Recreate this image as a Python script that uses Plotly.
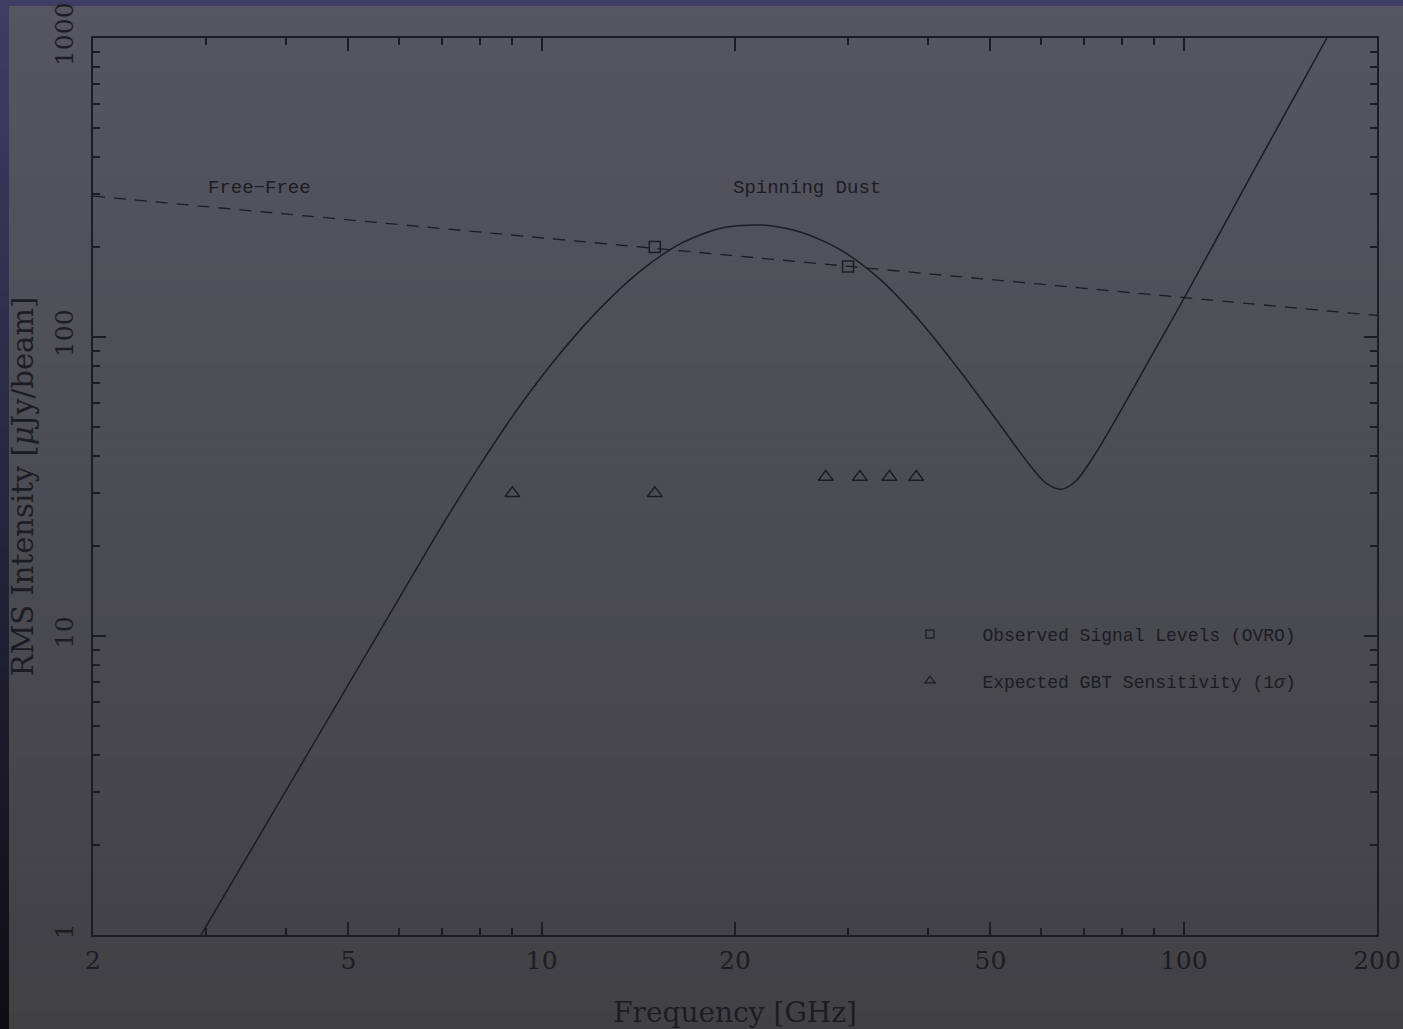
import numpy as np
import plotly.graph_objects as go

# ---- data -------------------------------------------------------------
# Free-free power law (dashed)
freefree_freq = [2.0, 200.0]
freefree_rms = [296.0, 118.0]

# Spinning dust + thermal dust model (solid curve)
dust_freq = [2.946, 4.217, 6.036, 6.968, 8.044, 9.283, 10.72, 12.37, 14.27,
             16.48, 19.02, 21.95, 25.35, 29.25, 33.76, 38.97, 44.98, 51.93,
             57.84, 61.03, 64.40, 67.93, 72.74, 79.57, 88.60, 100.5, 129.6,
             167.1]
dust_rms = [1.0, 3.70, 13.71, 23.08, 37.78, 59.59, 88.96, 125.6, 166.8,
            205.6, 231.2, 236.9, 224.1, 195.2, 154.9, 112.1, 76.23, 50.30,
            36.83, 32.44, 30.97, 32.99, 40.49, 56.13, 84.67, 136.8, 372.0,
            1000.0]

# Observed signal levels (OVRO)
ovro_freq = [15.0, 30.0]
ovro_rms = [200.0, 172.0]

# Expected GBT sensitivity (1 sigma)
gbt_freq = [9.0, 15.0, 27.7, 31.3, 34.8, 38.3]
gbt_rms = [30.0, 30.0, 34.0, 34.0, 34.0, 34.0]

x_major = [2, 5, 10, 20, 50, 100, 200]
x_minor = [3, 4, 6, 7, 8, 9, 30, 40, 60, 70, 80, 90]
y_major = [1, 10, 100, 1000]
y_minor = [m * d for d in (1, 10, 100) for m in range(2, 10)]

# ---- layout geometry (pixels) ----------------------------------------
W, H = 1403, 1029
L, R, T, B = 93, 26, 38, 94
PW, PH = W - L - R, H - T - B


def px_x(px):
    return (px - L) / PW


def px_y(py):
    return (H - B - py) / PH


INK = "rgb(28,28,36)"
SERIF = "DejaVu Serif"
MONO = "Liberation Mono"


def lerp(c0, c1, t):
    return "rgb(%d,%d,%d)" % tuple(round(a + (b - a) * t) for a, b in zip(c0, c1))


shapes = []
# navy backdrop, dark towards the bottom
n = 60
for i in range(n):
    y0, y1 = H * i / n, H * (i + 1) / n + 1
    shapes.append(dict(type="rect", xref="paper", yref="paper", layer="below",
                       x0=px_x(0), x1=px_x(W), y0=px_y(y1), y1=px_y(y0),
                       line=dict(width=0),
                       fillcolor=lerp((62, 62, 102), (13, 13, 21), (i + 0.5) / n)))
# grey slide panel, slightly lighter at the top
top = 6
for i in range(n):
    y0 = top + (H - top) * i / n
    y1 = top + (H - top) * (i + 1) / n + 1
    shapes.append(dict(type="rect", xref="paper", yref="paper", layer="below",
                       x0=px_x(9), x1=px_x(W), y0=px_y(min(y1, H)), y1=px_y(y0),
                       line=dict(width=0),
                       fillcolor=lerp((86, 86, 98), (65, 65, 68), (i + 0.5) / n)))

fig = go.Figure()

fig.add_trace(go.Scatter(
    x=freefree_freq, y=freefree_rms, mode="lines", showlegend=False,
    line=dict(color=INK, width=1.3, dash="12px,9px"), hoverinfo="skip"))

fig.add_trace(go.Scatter(
    x=dust_freq, y=dust_rms, mode="lines", showlegend=False,
    line=dict(color=INK, width=1.5, shape="spline", smoothing=0.8),
    hoverinfo="skip"))

fig.add_trace(go.Scatter(
    x=ovro_freq, y=ovro_rms, mode="markers", showlegend=False,
    marker=dict(symbol="square-open", size=11, color=INK,
                line=dict(width=1.5, color=INK))))

fig.add_trace(go.Scatter(
    x=gbt_freq, y=gbt_rms, mode="markers", showlegend=False,
    marker=dict(symbol="triangle-up-open", size=13, color=INK,
                line=dict(width=1.5, color=INK))))

# legend keys
gap = "\u00a0" * 3
fig.add_trace(go.Scatter(
    x=[None], y=[None], mode="markers", legendgroup="a",
    name=gap + "Observed Signal Levels (OVRO)",
    marker=dict(symbol="square-open", size=8, color=INK,
                line=dict(width=1.2, color=INK))))
fig.add_trace(go.Scatter(
    x=[None], y=[None], mode="markers", legendgroup="b",
    name=gap + "Expected GBT Sensitivity (1<i>σ</i>)",
    marker=dict(symbol="triangle-up-open", size=9, color=INK,
                line=dict(width=1.2, color=INK))))

axis_common = dict(
    type="log", showgrid=False, zeroline=False,
    showline=True, linecolor=INK, linewidth=1.5, mirror="ticks",
    ticks="inside", ticklen=13, tickwidth=1.5, tickcolor=INK,
    tickfont=dict(family=SERIF, size=25, color=INK),
)

fig.update_xaxes(
    **axis_common,
    range=[np.log10(2), np.log10(200)],
    tickvals=x_major, ticktext=[str(v) for v in x_major],
    ticklabelstandoff=2,
    minor=dict(tickvals=x_minor, ticks="inside", ticklen=7, tickwidth=1.5,
               tickcolor=INK, showgrid=False),
    title=dict(text="Frequency [GHz]", standoff=49,
               font=dict(family=SERIF, size=28, color=INK)),
)
fig.update_yaxes(
    **axis_common,
    range=[0, 3],
    tickvals=y_major, ticktext=[str(v) for v in y_major], tickangle=-90,
    ticklabelstandoff=8,
    minor=dict(tickvals=y_minor, ticks="inside", ticklen=7, tickwidth=1.5,
               tickcolor=INK, showgrid=False),
    title=dict(text="RMS Intensity [<i>μ</i>Jy/beam]", standoff=8,
               font=dict(family=SERIF, size=29, color=INK)),
)

annotations = [
    dict(text="Free\u2212Free", x=px_x(259), y=px_y(188)),
    dict(text="Spinning Dust", x=px_x(807), y=px_y(188)),
]
annotations = [dict(a, xref="paper", yref="paper", showarrow=False,
                    xanchor="center", yanchor="middle",
                    font=dict(family=MONO, size=19, color=INK))
               for a in annotations]

fig.update_layout(
    width=W, height=H,
    margin=dict(l=L, r=R, t=T, b=B, autoexpand=False),
    paper_bgcolor="rgb(40,40,60)",
    plot_bgcolor="rgba(0,0,0,0)",
    shapes=shapes,
    annotations=annotations,
    showlegend=True,
    legend=dict(x=px_x(910), y=px_y(616), xanchor="left", yanchor="top",
                bgcolor="rgba(0,0,0,0)", borderwidth=0,
                font=dict(family=MONO, size=18, color=INK),
                tracegroupgap=20, itemclick=False, itemdoubleclick=False),
)

fig.write_html("out.html", config={"displayModeBar": False})
